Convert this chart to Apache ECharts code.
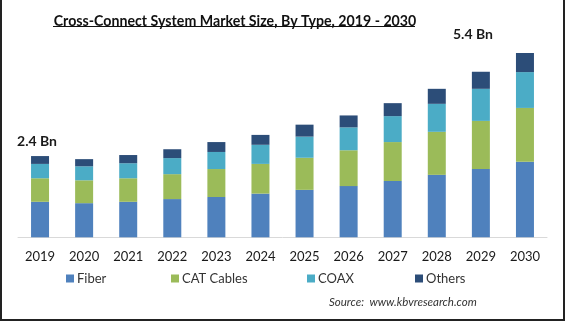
<!DOCTYPE html>
<html>
<head>
<meta charset="utf-8">
<script src="https://cdn.jsdelivr.net/npm/echarts@6/dist/echarts.min.js"></script>
<style>
html,body{margin:0;padding:0;background:#fff;}
#c{width:565px;height:321px;}
</style>
</head>
<body>
<div id="c"></div>
<script>
var years = ['2019','2020','2021','2022','2023','2024','2025','2026','2027','2028','2029','2030'];
var fiber = [1.04,1.00,1.04,1.12,1.18,1.28,1.39,1.50,1.65,1.83,2.00,2.21];
var catCables = [0.69,0.67,0.69,0.73,0.82,0.87,0.94,1.05,1.14,1.26,1.41,1.58];
var coax = [0.42,0.41,0.44,0.47,0.50,0.56,0.62,0.67,0.76,0.82,0.94,1.05];
var others = [0.23,0.21,0.24,0.26,0.29,0.29,0.35,0.35,0.38,0.44,0.50,0.56];
var totalLabels = {0:'2.4 Bn', 11:'5.4 Bn'};
var seriesNames = ['Fiber','CAT Cables','COAX','Others'];
var colors = ['#4f81bd','#9bbb59','#4bacc6','#2c4d78'];

var chart = echarts.init(document.getElementById('c'));
var font = 'Lato, "Noto Sans", sans-serif';

var othersData = others.map(function(v,i){
  if (totalLabels[i] === undefined) return v;
  return {
    value: v,
    label: {
      show: true,
      position: 'top',
      distance: 8,
      offset: i === 11 ? [-52, -3] : [-3, 0],
      formatter: totalLabels[i],
      fontFamily: font,
      fontWeight: 'bold',
      fontSize: 14,
      color: '#1a1a1a'
    }
  };
});

var allData = [fiber, catCables, coax, othersData];
var legendLefts = [61, 166, 302, 410];

var option = {
  animation: false,
  backgroundColor: '#fff',
  color: colors,
  title: {
    text: 'Cross-Connect System Market Size, By Type, 2019 - 2030',
    left: 230, top: 9, textAlign: 'center',
    textStyle: {fontFamily: font, fontWeight: 'bold', fontSize: 14.2, color: '#111'}
  },
  legend: legendLefts.map(function(l, i){
    return {
      data: [seriesNames[i]],
      left: l, top: 267,
      icon: 'rect', itemWidth: 8, itemHeight: 8,
      textStyle: {fontFamily: font, fontSize: 13, color: '#333', padding: [0,0,0,-2]}
    };
  }),
  grid: {left: 18, right: 18, top: 32.5, bottom: 83.7},
  xAxis: {
    type: 'category', data: years,
    axisLine: {lineStyle: {color: '#d9d9d9', width: 1}},
    axisTick: {show: false},
    axisLabel: {fontFamily: font, fontSize: 13, color: '#1a1a1a', margin: 13}
  },
  yAxis: {
    type: 'value', min: 0, max: 6,
    show: false, splitLine: {show: false}
  },
  series: allData.map(function(d, i){
    return {
      name: seriesNames[i], type: 'bar', stack: 'total',
      barWidth: 18, data: d,
      itemStyle: {color: colors[i]}
    };
  }),
  graphic: [
    {type: 'line', z: 100, shape: {x1: 53, y1: 26.5, x2: 415, y2: 26.5}, style: {stroke: '#111', lineWidth: 1}},
    {type: 'text', left: 329, top: 296, style: {text: 'Source:  www.kbvresearch.com', font: 'italic 11.5px ' + font, fill: '#333'}},
    {type: 'polyline', shape: {points: [[1,0],[1,320],[564,320],[564,0]]}, style: {stroke: '#222', lineWidth: 2, fill: null}}
  ]
};
chart.setOption(option);
</script>
</body>
</html>
